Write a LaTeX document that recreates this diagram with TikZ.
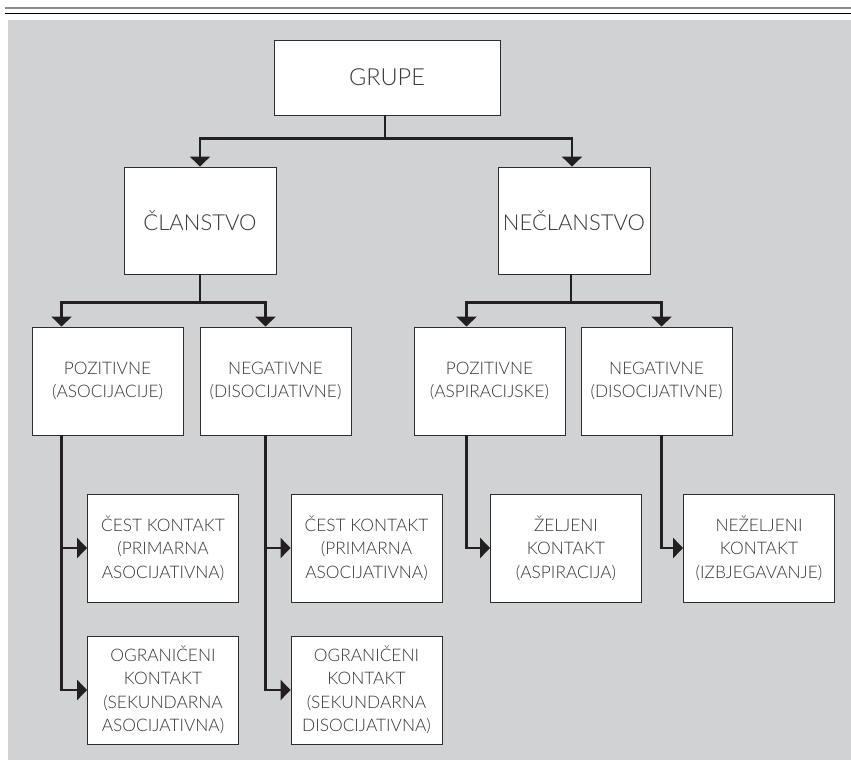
\documentclass[tikz,border=0pt]{standalone}
\usepackage{fontspec}
\setmainfont{Lato Light}
\usetikzlibrary{arrows.meta}
\definecolor{bg}{RGB}{209,210,212}
\definecolor{txt}{RGB}{55,55,55}
\definecolor{edge}{RGB}{45,45,45}
\definecolor{conncol}{RGB}{35,31,32}
\definecolor{rulecol}{RGB}{140,140,140}
\begin{document}
\begin{tikzpicture}[x=1pt,y=-1pt,
 box/.style={draw=edge, line width=0.9pt, fill=white, rectangle, inner sep=0pt, align=center, text=txt},
 bigbox/.style={box, minimum width=152pt, minimum height=107pt, font=\fontsize{22}{26}\selectfont},
 smallbox/.style={box, minimum width=151pt, minimum height=108pt, font=\fontsize{17.3}{23.4}\selectfont},
 conn/.style={draw=conncol, line width=2.6pt, -{Triangle[length=10pt,width=20pt]}}]
\useasboundingbox (0,0) rectangle (851,760);
\fill[bg] (8,20) rectangle (851,760);
\draw[rulecol, line width=2pt] (5,8) -- (851,8);
\draw[black, line width=1.5pt] (5,13.3) -- (851,13.3);

\node[box, minimum width=226pt, minimum height=75pt, font=\fontsize{23.5}{26}\selectfont] (grupe) at (387,77.5) {GRUPE};
\node[bigbox] (clan) at (200,220.5) {ČLANSTVO};
\node[bigbox] (neclan) at (574,220.5) {NEČLANSTVO};

\node[smallbox] (pozA) at (107.5,381) {POZITIVNE\\(ASOCIJACIJE)};
\node[smallbox] (negA) at (275.5,381) {NEGATIVNE\\(DISOCIJATIVNE)};
\node[smallbox] (pozB) at (489.5,381) {POZITIVNE\\(ASPIRACIJSKE)};
\node[smallbox] (negB) at (656.5,381) {NEGATIVNE\\(DISOCIJATIVNE)};

\node[smallbox] (c1) at (163,548) {ČEST KONTAKT\\(PRIMARNA\\ASOCIJATIVNA)};
\node[smallbox] (c2) at (163,690) {OGRANIČENI\\KONTAKT\\(SEKUNDARNA\\ASOCIJATIVNA)};
\node[smallbox] (c3) at (366.5,548) {ČEST KONTAKT\\(PRIMARNA\\ASOCIJATIVNA)};
\node[smallbox] (c4) at (366.5,690) {OGRANIČENI\\KONTAKT\\(SEKUNDARNA\\DISOCIJATIVNA)};
\node[smallbox] (c5) at (566,548) {ŽELJENI\\KONTAKT\\(ASPIRACIJA)};
\node[smallbox] (c6) at (759,548) {NEŽELJENI\\KONTAKT\\(IZBJEGAVANJE)};

\draw[conn] ([xshift=-2pt]grupe.south) -- ++(0,23) -| (clan.north);
\draw[conn] ([xshift=-2pt]grupe.south) -- ++(0,23) -| ([xshift=-2pt]neclan.north);

\draw[conn] (clan.south) -- ++(0,28) -| ([xshift=30pt]pozA.north west);
\draw[conn] (clan.south) -- ++(0,28) -| ([xshift=66pt]negA.north west);
\draw[conn] ([xshift=-3pt]neclan.south) -- ++(0,28) -| ([xshift=53pt]pozB.north west);
\draw[conn] ([xshift=-3pt]neclan.south) -- ++(0,28) -| ([xshift=81pt]negB.north west);

\draw[conn] ([xshift=30pt]pozA.south west) |- (c1.west);
\draw[conn] ([xshift=30pt]pozA.south west) |- (c2.west);
\draw[conn] ([xshift=66pt]negA.south west) |- (c3.west);
\draw[conn] ([xshift=66pt]negA.south west) |- (c4.west);
\draw[conn] ([xshift=53pt]pozB.south west) |- (c5.west);
\draw[conn] ([xshift=81pt]negB.south west) |- (c6.west);
\end{tikzpicture}
\end{document}
